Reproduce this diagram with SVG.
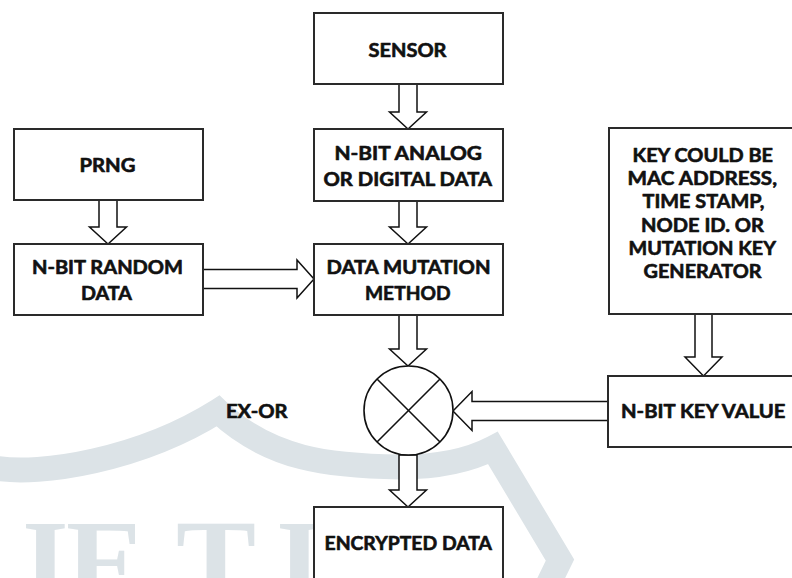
<svg xmlns="http://www.w3.org/2000/svg" width="792" height="578" viewBox="0 0 792 578">
  <style>
    .box { fill: #ffffff; stroke: #2a2a2a; stroke-width: 2; }
    .arrow { fill: #ffffff; stroke: #111111; stroke-width: 1.5; stroke-linejoin: miter; }
    .lbl { font-family: Lato, "Open Sans", "Liberation Sans", sans-serif; font-weight: 700; font-size: 18.5px; fill: #111111; stroke: #111111; stroke-width: 0.6; stroke-linejoin: round; }
    .wm { fill: none; stroke: #dce3e7; stroke-width: 25; stroke-linejoin: miter; stroke-miterlimit: 10; }
    .wmtext { font-family: "Liberation Serif", "DejaVu Serif", serif; font-weight: 700; font-size: 120px; fill: #dce3e7; }
  </style>

  <rect width="792" height="578" fill="#ffffff"/>

  <!-- faint background emblem -->
  <g id="emblem">
    <path class="wm" d="M -5 468 C 40 476, 140 460, 218 411 C 270 460, 330 466, 400 467 C 440 467, 470 460, 493 448 L 560 560 L 543 595"/>
    <text class="wmtext" x="22 66 176 276" y="603">IETI</text>
  </g>

  <!-- connectors -->
  <g id="connectors">
    <!-- SENSOR to N-BIT ANALOG -->
    <polygon class="arrow" points="399,84 417,84 417,112 426.5,112 408,129 389.5,112 399,112"/>
    <!-- N-BIT ANALOG to DATA MUTATION -->
    <polygon class="arrow" points="399,201 417,201 417,227 426.5,227 408,244 389.5,227 399,227"/>
    <!-- PRNG to N-BIT RANDOM -->
    <polygon class="arrow" points="99,200 117,200 117,227 126.5,227 108,244 89.5,227 99,227"/>
    <!-- N-BIT RANDOM to DATA MUTATION -->
    <polygon class="arrow" points="203,269.5 297,269.5 297,260 314,279 297,298 297,288.5 203,288.5"/>
    <!-- DATA MUTATION to EX-OR -->
    <polygon class="arrow" points="399,315 417,315 417,349 426.5,349 408,366 389.5,349 399,349"/>
    <!-- KEY source to N-BIT KEY VALUE -->
    <polygon class="arrow" points="695,314 712,314 712,357 722,357 703.5,376 685,357 695,357"/>
    <!-- N-BIT KEY VALUE to EX-OR -->
    <polygon class="arrow" points="608,401.5 472,401.5 472,391.5 453,411 472,430.5 472,420.5 608,420.5"/>
    <!-- EX-OR to ENCRYPTED DATA -->
    <polygon class="arrow" points="399,455 417,455 417,490 426.5,490 408,507 389.5,490 399,490"/>
  </g>

  <g id="sensor">
    <rect class="box" x="314" y="13" width="189" height="71"/>
    <text class="lbl" x="368.5" y="57" textLength="78" lengthAdjust="spacingAndGlyphs">SENSOR</text>
  </g>

  <g id="analog-data">
    <rect class="box" x="314" y="129" width="189" height="72"/>
    <text class="lbl" x="334.5" y="160" textLength="147.5" lengthAdjust="spacingAndGlyphs">N-BIT ANALOG</text>
    <text class="lbl" x="323.5" y="186" textLength="168.5" lengthAdjust="spacingAndGlyphs">OR DIGITAL DATA</text>
  </g>

  <g id="prng">
    <rect class="box" x="14" y="129" width="189" height="71"/>
    <text class="lbl" x="79.5" y="172" textLength="56" lengthAdjust="spacingAndGlyphs">PRNG</text>
  </g>

  <g id="random-data">
    <rect class="box" x="14" y="244" width="189" height="71"/>
    <text class="lbl" x="32" y="273.5" textLength="151" lengthAdjust="spacingAndGlyphs">N-BIT RANDOM</text>
    <text class="lbl" x="81" y="300" textLength="51" lengthAdjust="spacingAndGlyphs">DATA</text>
  </g>

  <g id="data-mutation">
    <rect class="box" x="314" y="244" width="189" height="71"/>
    <text class="lbl" x="326.5" y="273.5" textLength="164" lengthAdjust="spacingAndGlyphs">DATA MUTATION</text>
    <text class="lbl" x="365" y="300" textLength="85.5" lengthAdjust="spacingAndGlyphs">METHOD</text>
  </g>

  <g id="key-source">
    <rect class="box" x="609" y="128" width="189" height="186"/>
    <text class="lbl" x="632.5" y="161.7" textLength="140.5" lengthAdjust="spacingAndGlyphs">KEY COULD BE</text>
    <text class="lbl" x="627.5" y="185" textLength="149.5" lengthAdjust="spacingAndGlyphs">MAC ADDRESS,</text>
    <text class="lbl" x="642.5" y="208.3" textLength="122" lengthAdjust="spacingAndGlyphs">TIME STAMP,</text>
    <text class="lbl" x="641" y="231.7" textLength="123" lengthAdjust="spacingAndGlyphs">NODE ID. OR</text>
    <text class="lbl" x="628.5" y="255" textLength="147.5" lengthAdjust="spacingAndGlyphs">MUTATION KEY</text>
    <text class="lbl" x="643.5" y="278.3" textLength="118" lengthAdjust="spacingAndGlyphs">GENERATOR</text>
  </g>

  <g id="key-value">
    <rect class="box" x="608" y="376" width="190" height="71"/>
    <text class="lbl" x="621" y="417.7" textLength="164.5" lengthAdjust="spacingAndGlyphs">N-BIT KEY VALUE</text>
  </g>

  <g id="ex-or">
    <circle cx="408.5" cy="410.5" r="44.5" fill="#ffffff" stroke="#111111" stroke-width="1.6"/>
    <line x1="377" y1="379" x2="440" y2="442" stroke="#111111" stroke-width="1.6"/>
    <line x1="440" y1="379" x2="377" y2="442" stroke="#111111" stroke-width="1.6"/>
    <text class="lbl" x="226" y="418.3" textLength="61.5" lengthAdjust="spacingAndGlyphs">EX-OR</text>
  </g>

  <g id="encrypted-data">
    <rect class="box" x="314" y="507" width="189" height="90"/>
    <text class="lbl" x="324.5" y="550" textLength="167.5" lengthAdjust="spacingAndGlyphs">ENCRYPTED DATA</text>
  </g>
</svg>
